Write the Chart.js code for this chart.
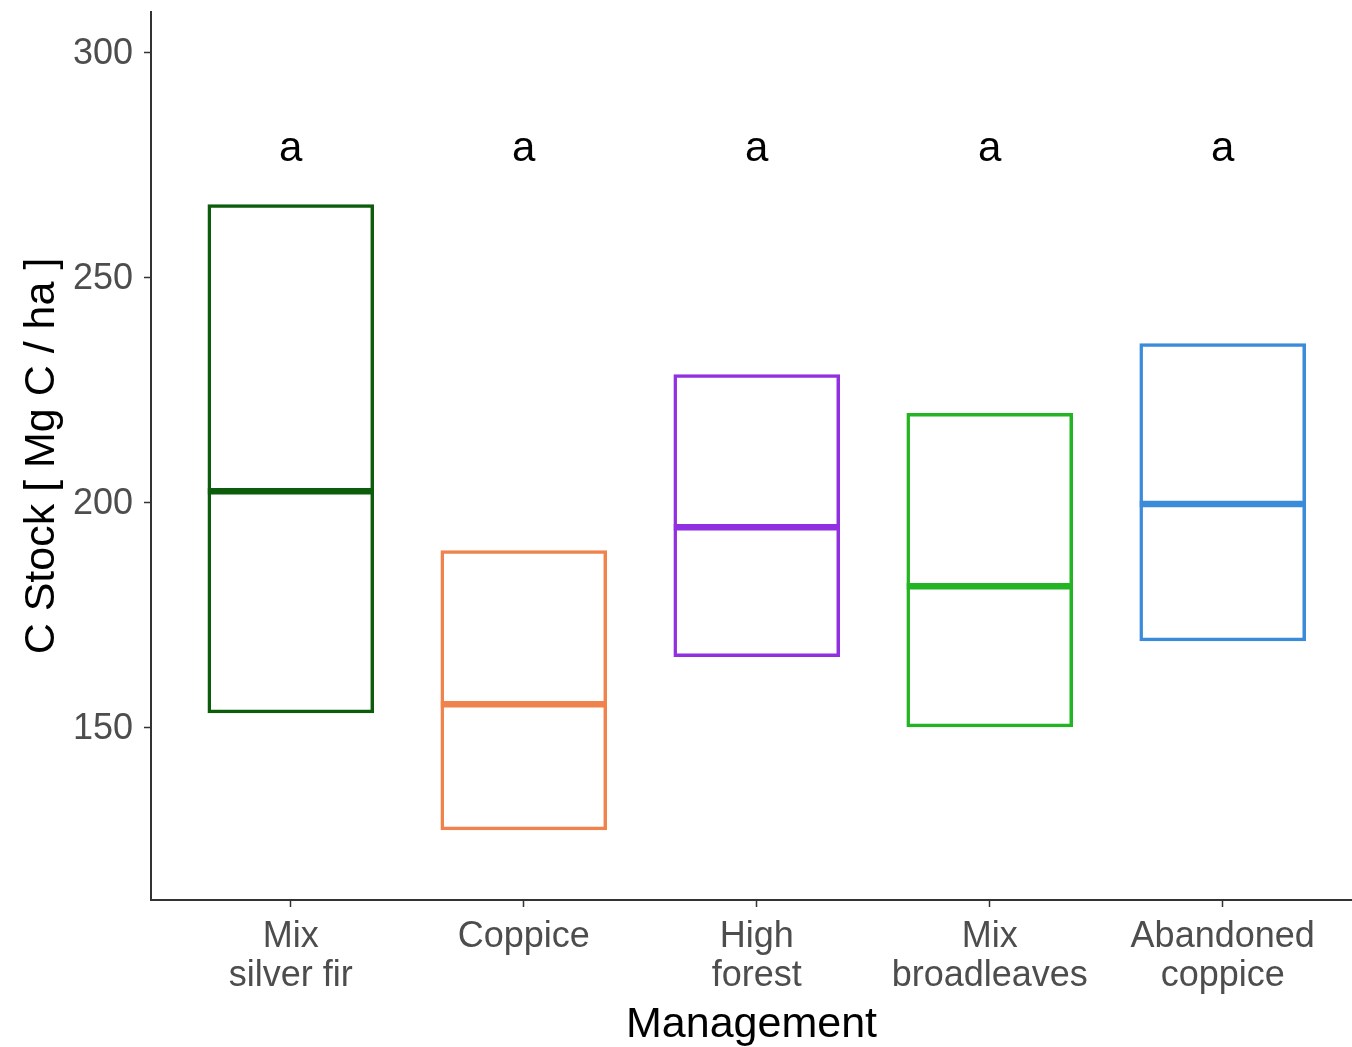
<!DOCTYPE html>
<html>
<head>
<meta charset="utf-8">
<script src="https://cdn.jsdelivr.net/npm/chart.js@4/dist/chart.umd.min.js"></script>
<style>
  html, body { margin: 0; padding: 0; background: #fff; }
  canvas { display: block; }
</style>
</head>
<body>
<canvas id="chart" width="1352" height="1047"></canvas>
<script>
// Management types (x-axis categories, "\n" = line break in the tick label)
const categories = ['Mix\nsilver fir', 'Coppice', 'High\nforest', 'Mix\nbroadleaves', 'Abandoned\ncoppice'];
// Crossbar lower edge, upper edge and middle line (Mg C / ha)
const boxLow = [153.1, 127.1, 165.6, 150.0, 169.1];
const boxHigh = [266.2, 189.3, 228.4, 219.8, 235.3];
const medians = [202.4, 155.1, 194.4, 181.3, 199.6];
// Significance group letters
const groupLetters = ['a', 'a', 'a', 'a', 'a'];
// Y axis tick values
const yTicks = [150, 200, 250, 300];

const colors = ['#0B5C0B', '#F0834D', '#9030E0', '#22B422', '#3A8BD9'];
const FONT = '"Liberation Sans", Arial, Helvetica, sans-serif';
const HALF_BOX = 0.356;     // half box width, in category units
const LETTER_LEVEL = 278.4; // height at which group letters are written

const boxData = categories.map((_, i) => ({ x: i + 1, y: [boxLow[i], boxHigh[i]] }));

const medianSets = medians.map((m, i) => ({
  type: 'line',
  data: [{ x: i + 1 - HALF_BOX, y: m }, { x: i + 1 + HALF_BOX, y: m }],
  borderColor: colors[i],
  borderWidth: 6.5,
  borderCapStyle: 'butt',
  pointRadius: 0,
  fill: false,
  order: 0
}));

const letterPlugin = {
  id: 'groupLetters',
  afterDatasetsDraw(chart) {
    const { ctx, scales: { x, y } } = chart;
    ctx.save();
    ctx.font = '42px ' + FONT;
    ctx.fillStyle = '#000';
    ctx.textAlign = 'center';
    ctx.textBaseline = 'middle';
    groupLetters.forEach((t, i) => {
      ctx.fillText(t, x.getPixelForValue(i + 1), y.getPixelForValue(LETTER_LEVEL));
    });
    ctx.restore();
  }
};

new Chart(document.getElementById('chart'), {
  type: 'bar',
  data: {
    datasets: [
      {
        type: 'bar',
        data: boxData,
        backgroundColor: 'rgba(0,0,0,0)',
        borderColor: colors,
        borderWidth: 3.5,
        borderSkipped: false,
        categoryPercentage: 1,
        barPercentage: 0.715,
        order: 1
      },
      ...medianSets
    ]
  },
  options: {
    responsive: false,
    animation: false,
    devicePixelRatio: 1,
    layout: { padding: { top: 12, left: 0, right: 0, bottom: 0 } },
    plugins: { legend: { display: false }, tooltip: { enabled: false } },
    scales: {
      x: {
        type: 'linear',
        offset: false,
        min: 0.4,
        max: 5.555,
        afterBuildTicks: s => { s.ticks = categories.map((_, i) => ({ value: i + 1 })); },
        afterFit: s => { s.height = 147; s.paddingLeft = 0; s.paddingRight = 0; },
        border: { display: true, color: '#333', width: 2 },
        grid: { offset: false, drawOnChartArea: false, drawTicks: true, tickLength: 7, tickColor: '#333', tickWidth: 1.5 },
        ticks: {
          autoSkip: false,
          maxRotation: 0,
          padding: 10,
          color: '#4D4D4D',
          font: { family: FONT, size: 36, lineHeight: 1.1 },
          callback: v => {
            const c = categories[Math.round(v) - 1];
            return c ? c.split('\n') : '';
          }
        },
        title: {
          display: true,
          text: 'Management',
          color: '#000',
          font: { family: FONT, size: 43, lineHeight: 1 },
          padding: { top: 0, bottom: 0 }
        }
      },
      y: {
        type: 'linear',
        min: 111.6,
        max: 308.9,
        afterBuildTicks: s => { s.ticks = yTicks.map(v => ({ value: v })); },
        afterFit: s => { s.width = 151; s.paddingTop = 0; s.paddingBottom = 0; },
        border: { display: true, color: '#333', width: 2 },
        grid: { drawOnChartArea: false, drawTicks: true, tickLength: 7, tickColor: '#333', tickWidth: 1.5 },
        ticks: {
          padding: 11,
          labelOffset: 2,
          color: '#4D4D4D',
          font: { family: FONT, size: 36 }
        },
        title: {
          display: true,
          text: 'C Stock [ Mg C / ha ]',
          color: '#000',
          font: { family: FONT, size: 43, lineHeight: 1 },
          padding: { top: 21, bottom: 0 }
        }
      }
    }
  },
  plugins: [letterPlugin]
});
</script>
</body>
</html>
